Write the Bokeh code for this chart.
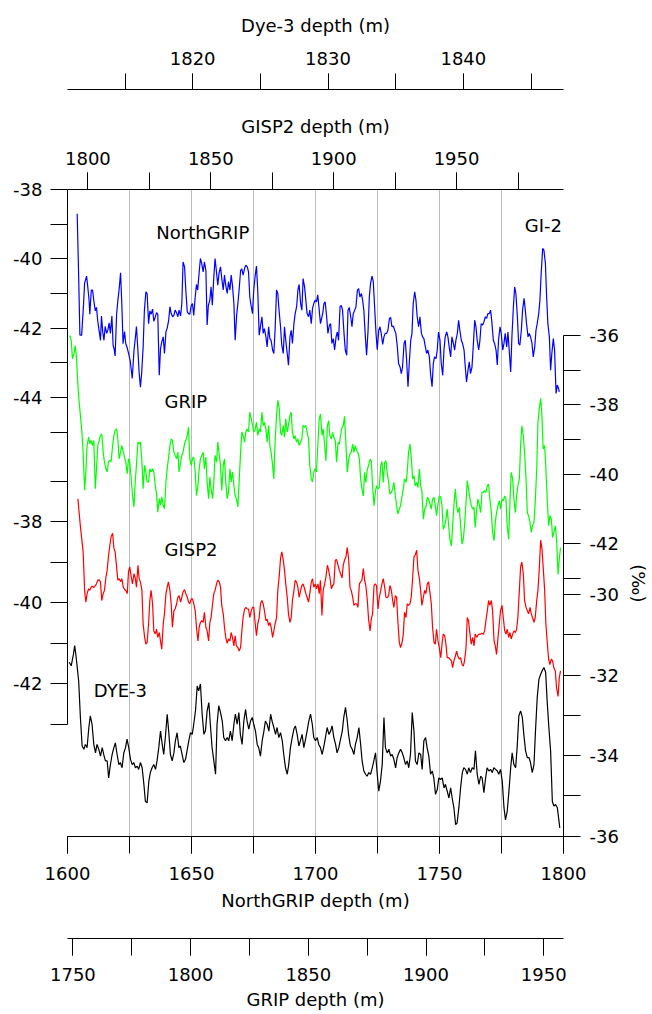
from bokeh.plotting import figure
from bokeh.models import Range1d, LinearAxis, FixedTicker, SingleIntervalTicker, Label, Title
from bokeh.layouts import column
from bokeh.embed import file_html
from bokeh.resources import INLINE

FONT = "DejaVu Sans"
FS = "18px"

# ---------------- data (depths in NorthGRIP metres, d18O in permil) ----------------
ngrip_depth = [
    1603.9, 1604.5, 1605.0, 1605.7, 1606.4, 1606.9, 1607.7, 1608.3, 1608.7, 1609.0,
    1609.6, 1610.1, 1610.6, 1611.2, 1611.7, 1612.2, 1612.8, 1613.3, 1613.7, 1614.2,
    1614.7, 1615.2, 1615.8, 1616.3, 1616.8, 1617.3, 1617.9, 1618.4, 1618.8, 1619.2,
    1619.8, 1620.3, 1620.8, 1621.4, 1621.9, 1622.4, 1623.0, 1623.5, 1624.0, 1624.7,
    1625.3, 1626.1, 1626.8, 1627.4, 1627.8, 1628.4, 1628.9, 1629.4, 1629.9, 1630.5,
    1631.0, 1631.6, 1632.1, 1632.7, 1633.2, 1633.7, 1634.3, 1634.8, 1635.3, 1635.9,
    1636.4, 1637.0, 1637.5, 1638.0, 1638.6, 1639.1, 1639.7, 1640.2, 1640.8, 1641.3,
    1641.8, 1642.4, 1642.9, 1643.4, 1644.0, 1644.5, 1645.0, 1645.6, 1646.1, 1646.6,
    1647.2, 1647.7, 1648.3, 1648.8, 1649.3, 1649.9, 1650.4, 1650.9, 1651.5, 1652.0,
    1652.5, 1653.1, 1653.6, 1654.1, 1654.7, 1655.2, 1655.8, 1656.3, 1656.8, 1657.4,
    1657.9, 1658.4, 1659.0, 1659.5, 1660.0, 1660.6, 1661.1, 1661.7, 1662.2, 1662.8,
    1663.3, 1663.8, 1664.4, 1664.9, 1665.5, 1666.0, 1666.5, 1667.1, 1667.6, 1668.2,
    1668.7, 1669.2, 1669.8, 1670.3, 1670.8, 1671.4, 1671.9, 1672.5, 1673.0, 1673.5,
    1674.1, 1674.6, 1675.1, 1675.7, 1676.2, 1676.7, 1677.3, 1677.8, 1678.4, 1678.9,
    1679.4, 1680.0, 1680.5, 1681.1, 1681.6, 1682.1, 1682.7, 1683.2, 1683.7, 1684.3,
    1684.8, 1685.3, 1685.9, 1686.4, 1687.0, 1687.5, 1688.0, 1688.6, 1689.1, 1689.7,
    1690.2, 1690.7, 1691.3, 1691.8, 1692.4, 1692.9, 1693.4, 1694.0, 1694.5, 1695.0,
    1695.6, 1696.1, 1696.6, 1697.2, 1697.7, 1698.3, 1698.8, 1699.3, 1699.9, 1700.4,
    1700.9, 1701.5, 1702.0, 1702.9, 1703.4, 1703.9, 1704.5, 1705.0, 1705.6, 1706.1,
    1706.6, 1707.2, 1707.7, 1708.3, 1708.8, 1709.3, 1709.9, 1710.4, 1710.9, 1711.5,
    1712.0, 1712.6, 1713.1, 1713.6, 1714.2, 1714.7, 1715.2, 1715.8, 1716.3, 1716.9,
    1717.4, 1717.9, 1718.5, 1719.0, 1719.5, 1720.1, 1720.6, 1721.2, 1721.7, 1722.2,
    1722.8, 1723.3, 1723.8, 1724.4, 1724.9, 1725.5, 1726.0, 1726.5, 1727.1, 1727.6,
    1728.1, 1728.7, 1729.2, 1729.8, 1730.3, 1730.8, 1731.4, 1731.9, 1732.4, 1733.0,
    1733.5, 1734.1, 1734.6, 1735.1, 1735.7, 1736.2, 1736.7, 1737.3, 1737.8, 1738.4,
    1738.9, 1739.4, 1740.0, 1740.5, 1741.0, 1741.6, 1742.1, 1742.7, 1743.2, 1743.7,
    1744.3, 1744.8, 1745.3, 1745.9, 1746.4, 1747.0, 1747.5, 1748.0, 1748.6, 1749.1,
    1749.6, 1750.2, 1750.7, 1751.3, 1751.8, 1752.3, 1752.9, 1753.4, 1753.9, 1754.5,
    1755.0, 1755.6, 1756.1, 1756.6, 1757.2, 1757.7, 1758.2, 1758.8, 1759.3, 1759.9,
    1760.4, 1760.9, 1761.5, 1762.0, 1762.5, 1763.1, 1763.6, 1764.2, 1764.7, 1765.2,
    1765.8, 1766.3, 1766.8, 1767.4, 1767.9, 1768.5, 1769.0, 1769.5, 1770.1, 1770.6,
    1771.1, 1771.7, 1772.2, 1772.8, 1773.3, 1773.8, 1774.4, 1774.9, 1775.5, 1776.0,
    1776.5, 1777.1, 1777.6, 1778.1, 1778.7, 1779.2, 1779.8, 1780.3, 1780.8, 1781.4,
    1781.9, 1782.4, 1783.0, 1783.5, 1784.1, 1784.6, 1785.1, 1785.7, 1786.2, 1786.7,
    1787.3, 1787.8, 1788.4, 1788.9, 1789.4, 1790.0, 1790.5, 1791.0, 1791.6, 1792.1,
    1792.7, 1793.2, 1793.7, 1794.3, 1794.8, 1795.3, 1795.9, 1796.4, 1797.0, 1797.5,
    1798.0, 1798.3,
]
ngrip_d18o = [
    -38.7, -40.5, -42.2, -42.2, -41.4, -40.7, -40.5, -40.9, -41.2, -41.6,
    -40.9, -40.9, -41.2, -41.5, -41.4, -41.8, -42.1, -42.35, -41.65, -42.1,
    -42.35, -41.95, -42.15, -42.05, -41.85, -42.15, -41.65, -42.5, -42.6, -42.8,
    -41.6, -41.2, -40.9, -40.4, -41.3, -42.45, -42.1, -42.45, -42.55, -42.75,
    -42.95, -43.45, -42.65, -42.25, -41.95, -42.65, -43.3, -43.7, -43.3, -42.55,
    -41.5, -40.95, -41.0, -41.87, -41.5, -41.6, -41.45, -41.8, -41.7, -41.55,
    -41.6, -43.36, -42.6, -42.4, -42.25, -42.73, -42.1, -42.0, -41.77, -41.38,
    -41.58, -41.67, -41.63, -41.48, -41.56, -41.67, -41.48, -41.65, -41.29, -40.09,
    -40.23, -40.9, -41.53, -41.58, -41.6, -41.34, -41.29, -41.63, -41.1, -40.74,
    -40.9, -40.38, -39.99, -40.13, -40.38, -40.09, -40.33, -41.91, -41.34, -41.19,
    -40.81, -41.34, -40.52, -39.99, -40.33, -40.76, -40.42, -40.23, -40.57, -40.9,
    -40.47, -40.76, -41.0, -40.66, -40.9, -40.47, -40.76, -41.29, -42.35, -41.63,
    -41.29, -40.9, -40.33, -40.29, -40.47, -40.28, -40.18, -40.23, -40.38, -41.1,
    -41.38, -41.58, -40.9, -40.47, -40.21, -40.9, -42.2, -41.96, -41.67, -42.15,
    -42.01, -42.25, -42.54, -41.96, -42.3, -42.35, -42.63, -42.73, -42.06, -40.9,
    -41.0, -41.48, -41.96, -42.49, -42.73, -41.96, -42.35, -42.73, -43.07, -42.25,
    -42.06, -42.44, -41.87, -41.58, -41.38, -40.9, -40.74, -41.29, -41.48, -40.57,
    -40.81, -41.19, -41.58, -41.67, -41.48, -41.87, -41.43, -41.29, -41.19, -41.24,
    -41.04, -41.48, -41.87, -41.58, -41.29, -41.24, -41.67, -42.15, -41.91, -41.87,
    -42.44, -42.3, -42.63, -42.25, -42.11, -42.35, -41.38, -41.34, -41.48, -42.15,
    -42.63, -42.78, -41.48, -41.4, -41.67, -41.96, -41.59, -41.48, -41.39, -40.9,
    -40.86, -41.1, -41.0, -41.19, -41.49, -42.25, -42.78, -42.06, -41.1, -40.71,
    -40.5, -40.66, -41.34, -42.15, -42.62, -42.06, -41.96, -42.15, -42.47, -42.25,
    -42.15, -42.15, -42.06, -41.72, -41.69, -41.96, -41.94, -42.06, -42.15, -42.54,
    -43.02, -43.12, -43.31, -43.12, -42.44, -42.35, -42.88, -43.69, -43.02, -42.35,
    -42.15, -41.29, -40.95, -41.19, -41.67, -41.96, -41.67, -42.15, -42.25, -42.3,
    -42.54, -42.73, -42.63, -42.83, -43.31, -43.69, -43.02, -42.83, -42.88, -42.63,
    -42.11, -42.35, -43.02, -43.36, -42.63, -42.25, -42.11, -42.25, -42.54, -42.83,
    -42.25, -42.44, -42.63, -42.35, -42.15, -41.77, -42.06, -42.35, -42.44, -42.63,
    -43.12, -43.55, -43.21, -42.97, -43.31, -43.12, -42.54, -41.77, -41.96, -42.35,
    -42.63, -42.35, -41.87, -41.91, -41.82, -41.67, -41.72, -41.58, -41.58, -41.48,
    -41.82, -42.35, -42.44, -42.63, -43.06, -42.35, -41.96, -42.15, -42.63, -42.44,
    -42.15, -42.54, -42.11, -42.63, -43.26, -42.25, -41.38, -40.81, -41.0, -41.67,
    -42.44, -42.49, -42.06, -41.48, -41.14, -41.48, -41.87, -42.25, -42.15, -42.25,
    -42.44, -42.83, -42.54, -42.06, -41.87, -41.58, -41.19, -40.42, -39.7, -39.75,
    -40.13, -41.1, -41.87, -42.25, -43.21, -42.73, -42.3, -42.63, -43.88, -43.64,
    -43.74, -43.84,
]

grip_depth = [
    1600.9, 1601.5, 1602.0, 1602.6, 1603.1, 1603.6, 1604.2, 1604.7, 1605.2, 1605.8,
    1606.3, 1606.9, 1607.4, 1607.9, 1608.5, 1609.0, 1609.5, 1610.1, 1610.6, 1611.2,
    1611.7, 1612.2, 1612.8, 1613.3, 1613.8, 1614.4, 1614.9, 1615.5, 1616.0, 1616.5,
    1617.1, 1617.6, 1618.2, 1618.7, 1619.2, 1619.8, 1620.3, 1620.8, 1621.4, 1621.9,
    1622.5, 1623.0, 1623.5, 1624.1, 1624.6, 1625.1, 1625.7, 1626.2, 1626.8, 1627.3,
    1627.8, 1628.4, 1628.9, 1629.4, 1630.0, 1630.5, 1631.1, 1631.6, 1632.1, 1632.7,
    1633.2, 1633.7, 1634.3, 1634.8, 1635.4, 1635.9, 1636.4, 1637.0, 1637.5, 1638.0,
    1638.6, 1639.1, 1639.7, 1640.2, 1640.7, 1641.3, 1641.8, 1642.3, 1642.9, 1643.4,
    1644.0, 1644.5, 1645.0, 1645.6, 1646.1, 1646.6, 1647.2, 1647.7, 1648.3, 1648.8,
    1649.3, 1649.9, 1650.4, 1650.9, 1651.5, 1652.0, 1652.6, 1653.1, 1653.6, 1654.2,
    1654.7, 1655.2, 1655.8, 1656.3, 1656.9, 1657.4, 1657.9, 1658.5, 1659.0, 1659.5,
    1660.1, 1660.6, 1661.2, 1661.7, 1662.2, 1662.8, 1663.3, 1663.8, 1664.4, 1664.9,
    1665.5, 1666.0, 1666.5, 1667.1, 1667.6, 1668.1, 1668.7, 1669.2, 1669.8, 1670.3,
    1670.8, 1671.4, 1671.9, 1672.4, 1673.0, 1673.5, 1674.1, 1674.6, 1675.1, 1675.7,
    1676.2, 1676.7, 1677.3, 1677.8, 1678.4, 1678.9, 1679.4, 1680.0, 1680.5, 1681.1,
    1681.6, 1682.1, 1682.7, 1683.2, 1683.7, 1684.3, 1684.8, 1685.4, 1685.9, 1686.4,
    1687.0, 1687.5, 1688.0, 1688.6, 1689.1, 1689.7, 1690.2, 1690.7, 1691.3, 1691.8,
    1692.3, 1692.9, 1693.4, 1694.0, 1694.5, 1695.0, 1695.6, 1696.1, 1696.6, 1697.2,
    1697.7, 1698.3, 1698.8, 1699.3, 1699.9, 1700.4, 1701.0, 1701.5, 1702.0, 1702.6,
    1703.1, 1703.7, 1704.2, 1704.8, 1705.3, 1705.8, 1706.4, 1706.9, 1707.4, 1708.0,
    1708.5, 1709.1, 1709.6, 1710.1, 1710.7, 1711.2, 1711.7, 1712.3, 1712.8, 1713.4,
    1713.9, 1714.4, 1715.0, 1715.5, 1716.0, 1716.6, 1717.1, 1717.7, 1718.2, 1718.7,
    1719.3, 1719.8, 1720.3, 1720.9, 1721.4, 1722.0, 1722.5, 1723.0, 1723.6, 1724.1,
    1724.6, 1725.2, 1725.7, 1726.3, 1726.8, 1727.3, 1727.9, 1728.4, 1728.9, 1729.5,
    1730.0, 1730.6, 1731.1, 1731.6, 1732.2, 1732.7, 1733.2, 1733.8, 1734.3, 1734.9,
    1735.4, 1735.9, 1736.5, 1737.0, 1737.5, 1738.1, 1738.6, 1739.2, 1739.7, 1740.2,
    1740.8, 1741.3, 1741.9, 1742.4, 1742.9, 1743.5, 1744.0, 1744.5, 1745.1, 1745.6,
    1746.2, 1746.7, 1747.2, 1747.8, 1748.3, 1748.8, 1749.4, 1749.9, 1750.5, 1751.0,
    1751.5, 1752.1, 1752.6, 1753.1, 1753.7, 1754.2, 1754.8, 1755.3, 1755.8, 1756.4,
    1756.9, 1757.4, 1758.0, 1758.5, 1759.1, 1759.6, 1760.1, 1760.7, 1761.2, 1761.7,
    1762.3, 1762.8, 1763.4, 1763.9, 1764.4, 1765.0, 1765.5, 1766.0, 1766.6, 1767.1,
    1767.7, 1768.2, 1768.7, 1769.3, 1769.8, 1770.3, 1770.9, 1771.4, 1772.0, 1772.5,
    1773.0, 1773.6, 1774.1, 1774.6, 1775.2, 1775.7, 1776.3, 1776.8, 1777.3, 1777.9,
    1778.4, 1778.9, 1779.5, 1780.0, 1780.6, 1781.1, 1781.6, 1782.2, 1782.7, 1783.2,
    1783.8, 1784.3, 1784.9, 1785.4, 1785.9, 1786.5, 1787.0, 1787.5, 1788.1, 1788.6,
    1789.2, 1789.7, 1790.2, 1790.8, 1791.3, 1791.8, 1792.4, 1792.9, 1793.5, 1794.0,
    1794.5, 1795.1, 1795.6, 1796.1, 1796.7, 1797.2, 1797.8, 1798.3, 1798.8,
]
grip_d18o = [
    -36.0, -36.14, -36.67, -36.53, -36.29, -36.62, -37.44, -37.92, -38.3, -38.78,
    -39.36, -40.46, -39.93, -39.17, -38.93, -39.12, -39.02, -39.17, -39.02, -40.41,
    -39.84, -39.17, -39.02, -38.88, -38.83, -39.36, -39.65, -39.84, -39.93, -39.65,
    -39.6, -39.63, -39.17, -38.88, -38.74, -38.69, -38.98, -39.55, -39.36, -39.17,
    -39.36, -39.5, -39.65, -39.98, -39.55, -39.65, -40.13, -40.61, -40.94, -40.22,
    -39.74, -39.07, -39.12, -39.07, -39.65, -40.41, -39.74, -39.93, -40.22, -40.22,
    -39.84, -39.93, -39.84, -39.93, -40.32, -40.56, -41.09, -40.7, -40.89, -40.65,
    -40.89, -40.99, -40.22, -39.84, -39.55, -39.17, -38.98, -39.02, -39.36, -39.45,
    -39.55, -39.36, -39.93, -39.65, -39.45, -39.36, -39.12, -39.02, -38.88, -38.64,
    -39.55, -39.74, -39.55, -39.5, -39.93, -40.61, -40.32, -39.84, -39.55, -39.45,
    -39.36, -39.84, -39.5, -40.22, -40.7, -40.08, -40.41, -40.7, -40.22, -39.45,
    -39.65, -39.07, -39.45, -39.74, -40.46, -39.74, -39.55, -40.22, -40.7, -40.51,
    -39.84, -40.22, -39.93, -40.32, -40.61, -40.7, -40.94, -40.22, -39.36, -38.78,
    -38.88, -39.07, -38.78, -38.69, -38.78, -38.21, -38.4, -38.59, -38.78, -38.69,
    -38.5, -38.88, -38.69, -38.78, -38.21, -38.59, -38.5, -38.69, -39.07, -38.59,
    -39.17, -39.36, -39.74, -40.13, -39.07, -38.3, -37.87, -38.11, -38.78, -38.88,
    -38.59, -38.93, -38.4, -38.78, -38.59, -38.3, -38.21, -38.78, -38.98, -38.88,
    -39.07, -38.98, -39.17, -39.07, -38.98, -38.59, -38.64, -38.59, -38.78, -38.98,
    -39.74, -40.13, -40.22, -39.93, -39.84, -39.93, -39.07, -38.4, -38.26, -38.88,
    -38.69, -39.17, -39.61, -38.6, -38.45, -38.88, -38.98, -38.79, -38.93, -39.03,
    -39.65, -39.08, -39.13, -38.88, -38.64, -38.6, -38.33, -39.17, -39.94, -39.56,
    -39.41, -39.37, -39.13, -39.37, -39.17, -39.32, -39.37, -39.56, -40.13, -40.42,
    -40.62, -39.94, -40.23, -39.85, -39.75, -39.56, -39.61, -40.33, -40.9, -40.52,
    -40.33, -40.42, -40.38, -39.75, -39.63, -40.23, -39.65, -39.61, -39.94, -40.23,
    -40.57, -40.52, -40.42, -40.23, -40.62, -40.9, -41.14, -41.0, -40.9, -40.62,
    -40.42, -40.13, -40.23, -39.94, -39.37, -39.13, -39.51, -40.13, -40.04, -40.33,
    -40.23, -40.38, -39.85, -40.33, -40.47, -41.29, -41.0, -40.95, -40.66, -40.71,
    -40.86, -41.0, -40.71, -40.66, -40.9, -41.19, -40.86, -40.62, -40.66, -40.9,
    -41.58, -41.48, -41.29, -41.0, -41.48, -41.87, -42.06, -41.48, -40.9, -40.42,
    -40.9, -41.1, -40.95, -41.48, -42.01, -41.87, -41.48, -40.81, -40.18, -40.42,
    -40.71, -40.9, -41.0, -40.95, -41.53, -41.0, -40.71, -40.86, -41.1, -40.52,
    -40.52, -40.47, -40.52, -40.33, -40.28, -40.71, -41.1, -41.67, -41.91, -41.38,
    -41.1, -40.9, -40.76, -41.0, -40.71, -40.76, -40.62, -40.71, -41.48, -41.87,
    -40.81, -39.94, -40.13, -40.71, -41.1, -40.62, -40.33, -40.13, -39.17, -38.6,
    -38.88, -39.37, -40.13, -41.1, -41.19, -41.38, -41.67, -41.48, -41.38, -40.81,
    -39.85, -38.5, -38.12, -37.81, -38.31, -39.27, -39.17, -39.85, -40.81, -41.48,
    -41.19, -41.29, -41.82, -41.67, -41.48, -41.87, -42.88, -42.44, -42.11,
]

gisp2_depth = [
    1604.2, 1604.7, 1605.2, 1605.8, 1606.3, 1606.9, 1607.4, 1607.9, 1608.5, 1609.0,
    1609.5, 1610.1, 1610.6, 1611.2, 1611.7, 1612.2, 1612.8, 1613.3, 1613.8, 1614.4,
    1614.9, 1615.5, 1616.0, 1616.5, 1617.1, 1617.6, 1618.2, 1618.7, 1619.2, 1619.8,
    1620.3, 1620.8, 1621.4, 1621.9, 1622.5, 1623.0, 1623.5, 1624.1, 1624.6, 1625.1,
    1625.7, 1626.2, 1626.8, 1627.3, 1627.8, 1628.4, 1628.9, 1629.4, 1630.0, 1630.5,
    1631.1, 1631.6, 1632.1, 1632.7, 1633.2, 1633.7, 1634.3, 1634.8, 1635.4, 1635.9,
    1636.4, 1637.0, 1637.5, 1638.0, 1638.6, 1639.1, 1639.7, 1640.2, 1640.7, 1641.3,
    1641.8, 1642.3, 1642.9, 1643.4, 1644.0, 1644.5, 1645.0, 1645.6, 1646.1, 1646.6,
    1647.2, 1647.7, 1648.3, 1648.8, 1649.3, 1649.9, 1650.4, 1650.9, 1651.5, 1652.0,
    1652.6, 1653.1, 1653.6, 1654.2, 1654.7, 1655.2, 1655.8, 1656.3, 1656.9, 1657.4,
    1657.9, 1658.5, 1659.0, 1659.5, 1660.1, 1660.6, 1661.2, 1661.7, 1662.2, 1662.8,
    1663.3, 1663.8, 1664.4, 1664.9, 1665.5, 1666.0, 1666.5, 1667.1, 1667.6, 1668.1,
    1668.7, 1669.2, 1669.8, 1670.3, 1670.8, 1671.4, 1671.9, 1672.4, 1673.0, 1673.5,
    1674.1, 1674.6, 1675.1, 1675.7, 1676.2, 1676.7, 1677.3, 1677.8, 1678.4, 1678.9,
    1679.4, 1680.0, 1680.5, 1681.1, 1681.6, 1682.1, 1682.7, 1683.2, 1683.7, 1684.3,
    1684.8, 1685.4, 1685.9, 1686.4, 1687.0, 1687.5, 1688.0, 1688.6, 1689.1, 1689.7,
    1690.2, 1690.7, 1691.3, 1691.8, 1692.3, 1692.9, 1693.4, 1694.0, 1694.5, 1695.0,
    1695.6, 1696.1, 1696.6, 1697.2, 1697.7, 1698.3, 1698.8, 1699.3, 1699.9, 1700.4,
    1701.0, 1701.5, 1702.0, 1702.6, 1703.1, 1703.7, 1704.2, 1704.8, 1705.3, 1705.8,
    1706.4, 1706.9, 1707.4, 1708.0, 1708.5, 1709.1, 1709.6, 1710.1, 1710.7, 1711.2,
    1711.7, 1712.3, 1712.8, 1713.4, 1713.9, 1714.4, 1715.0, 1715.5, 1716.0, 1716.6,
    1717.1, 1717.7, 1718.2, 1718.7, 1719.3, 1719.8, 1720.3, 1720.9, 1721.4, 1722.0,
    1722.5, 1723.0, 1723.6, 1724.1, 1724.6, 1725.2, 1725.7, 1726.3, 1726.8, 1727.3,
    1727.9, 1728.4, 1728.9, 1729.5, 1730.0, 1730.6, 1731.1, 1731.6, 1732.2, 1732.7,
    1733.2, 1733.8, 1734.3, 1734.9, 1735.4, 1735.9, 1736.5, 1737.0, 1737.5, 1738.1,
    1738.6, 1739.2, 1739.7, 1740.2, 1740.8, 1741.3, 1741.9, 1742.4, 1742.9, 1743.5,
    1744.0, 1744.5, 1745.1, 1745.6, 1746.2, 1746.7, 1747.2, 1747.8, 1748.3, 1748.8,
    1749.4, 1749.9, 1750.5, 1751.0, 1751.5, 1752.1, 1752.6, 1753.1, 1753.7, 1754.2,
    1754.8, 1755.3, 1755.8, 1756.4, 1756.9, 1757.4, 1758.0, 1758.5, 1759.1, 1759.6,
    1760.1, 1760.7, 1761.2, 1761.7, 1762.3, 1762.8, 1763.4, 1763.9, 1764.4, 1765.0,
    1765.5, 1766.0, 1766.6, 1767.1, 1767.7, 1768.2, 1768.7, 1769.3, 1769.8, 1770.3,
    1770.9, 1771.4, 1772.0, 1772.5, 1773.0, 1773.6, 1774.1, 1774.6, 1775.2, 1775.7,
    1776.3, 1776.8, 1777.3, 1777.9, 1778.4, 1778.9, 1779.5, 1780.0, 1780.6, 1781.1,
    1781.6, 1782.2, 1782.7, 1783.2, 1783.8, 1784.3, 1784.9, 1785.4, 1785.9, 1786.5,
    1787.0, 1787.5, 1788.1, 1788.6, 1789.2, 1789.7, 1790.2, 1790.8, 1791.3, 1791.8,
    1792.4, 1792.9, 1793.5, 1794.0, 1794.5, 1795.1, 1795.6, 1796.1, 1796.7, 1797.2,
    1797.8, 1798.3, 1798.8,
]
gisp2_d18o = [
    -37.44, -37.79, -38.12, -38.46, -38.75, -39.7, -39.99, -39.78, -39.66, -39.7,
    -39.62, -39.6, -39.63, -39.58, -39.54, -39.45, -39.44, -39.49, -39.95, -39.78,
    -39.7, -39.37, -39.2, -38.87, -38.58, -38.37, -38.29, -38.66, -38.75, -39.12,
    -39.45, -39.41, -39.49, -39.41, -39.62, -39.68, -39.7, -39.78, -39.24, -39.12,
    -39.37, -39.54, -39.29, -39.39, -39.62, -39.08, -39.41, -39.49, -39.7, -40.53,
    -40.86, -41.03, -40.99, -40.53, -39.95, -39.7, -40.03, -40.7, -40.78, -40.66,
    -40.86, -40.74, -40.95, -41.15, -40.53, -40.28, -39.78, -39.62, -39.49, -39.7,
    -40.03, -40.61, -40.2, -40.16, -40.03, -39.87, -39.83, -39.99, -39.87, -39.74,
    -39.68, -39.78, -39.87, -39.99, -40.03, -39.91, -39.91, -40.03, -40.2, -40.61,
    -40.95, -40.61, -40.49, -40.45, -40.49, -40.24, -40.61, -40.7, -40.95, -40.49,
    -40.37, -40.03, -39.78, -39.7, -39.54, -39.45, -39.49, -39.62, -40.07, -40.28,
    -40.61, -40.86, -41.01, -40.9, -40.95, -40.74, -40.86, -41.07, -40.82, -41.07,
    -41.11, -41.2, -41.11, -40.7, -40.37, -40.16, -40.12, -40.16, -40.16, -40.37,
    -40.2, -40.12, -40.12, -40.53, -40.82, -40.53, -40.37, -40.03, -39.95, -40.03,
    -40.2, -40.45, -40.41, -40.57, -40.49, -40.61, -40.86, -40.7, -40.53, -40.37,
    -39.7, -39.33, -38.91, -38.75, -38.95, -39.2, -39.54, -39.87, -40.28, -40.49,
    -40.37, -39.95, -39.7, -39.45, -39.49, -39.62, -39.87, -39.7, -39.58, -39.54,
    -39.66, -39.78, -39.87, -39.99, -39.78, -39.49, -39.41, -39.62, -39.54, -39.66,
    -39.54, -39.78, -39.45, -40.32, -39.7, -39.54, -39.37, -39.08, -39.2, -39.37,
    -39.66, -39.58, -39.54, -38.95, -38.94, -39.08, -39.2, -39.29, -39.39, -39.08,
    -38.95, -38.87, -38.64, -38.95, -39.62, -39.7, -39.87, -40.07, -40.03, -40.03,
    -40.12, -39.54, -39.49, -39.45, -39.16, -39.45, -39.58, -39.95, -40.41, -40.7,
    -40.41, -40.28, -39.58, -39.54, -39.58, -40.16, -39.87, -39.7, -39.54, -39.41,
    -39.62, -39.87, -39.88, -39.83, -39.58, -39.7, -39.95, -40.12, -39.83, -39.87,
    -40.45, -40.99, -41.11, -40.99, -40.78, -40.24, -40.37, -40.03, -40.07, -40.03,
    -39.87, -39.37, -38.87, -38.83, -38.71, -39.2, -39.41, -39.7, -40.07, -39.87,
    -39.7, -39.78, -39.54, -39.49, -39.78, -40.03, -40.61, -40.99, -41.03, -40.66,
    -40.95, -41.11, -41.36, -41.03, -40.78, -40.82, -41.03, -41.36, -41.36, -41.4,
    -41.44, -41.61, -41.44, -41.32, -41.2, -41.32, -41.4, -41.36, -41.53, -41.57,
    -41.44, -41.11, -40.37, -40.45, -40.78, -41.03, -40.86, -41.07, -40.78, -40.86,
    -40.8, -40.78, -40.78, -40.76, -40.78, -40.7, -40.45, -40.2, -39.95, -40.07,
    -39.95, -40.2, -40.95, -41.07, -41.28, -40.86, -40.53, -40.2, -40.07, -40.37,
    -40.7, -40.78, -40.66, -40.86, -40.74, -40.9, -40.78, -40.7, -40.74, -40.66,
    -40.37, -39.7, -39.12, -39.0, -39.29, -39.95, -40.12, -40.2, -40.28, -40.12,
    -40.28, -40.37, -40.49, -40.37, -39.95, -39.7, -39.2, -38.46, -38.66, -39.12,
    -39.7, -40.53, -41.03, -41.4, -41.53, -41.4, -41.44, -41.61, -41.69, -42.11,
    -42.32, -41.86, -41.69,
]

dye3_depth = [
    1600.7, 1601.5, 1602.4, 1602.9, 1603.5, 1604.5, 1605.2, 1605.9, 1606.6, 1607.2,
    1607.9, 1608.6, 1609.2, 1609.9, 1610.6, 1611.3, 1611.9, 1612.6, 1613.3, 1614.0,
    1614.6, 1615.3, 1616.0, 1616.6, 1617.3, 1618.0, 1618.7, 1619.3, 1620.0, 1620.7,
    1621.3, 1622.0, 1622.7, 1623.4, 1624.0, 1624.7, 1625.4, 1626.1, 1626.7, 1627.4,
    1628.1, 1628.7, 1629.4, 1630.1, 1630.8, 1631.4, 1632.1, 1632.8, 1633.4, 1634.1,
    1634.8, 1635.5, 1636.1, 1636.8, 1637.5, 1638.2, 1638.8, 1639.5, 1640.2, 1640.8,
    1641.5, 1642.2, 1642.9, 1643.5, 1644.2, 1644.9, 1645.5, 1646.2, 1646.9, 1647.6,
    1648.2, 1648.9, 1649.6, 1650.3, 1650.9, 1651.6, 1652.3, 1652.9, 1653.6, 1654.3,
    1655.0, 1655.6, 1656.3, 1657.0, 1657.6, 1658.3, 1659.0, 1659.7, 1660.3, 1661.0,
    1661.7, 1662.4, 1663.0, 1663.7, 1664.4, 1665.0, 1665.7, 1666.4, 1667.1, 1667.7,
    1668.4, 1669.1, 1669.7, 1670.4, 1671.1, 1671.8, 1672.4, 1673.1, 1673.8, 1674.5,
    1675.1, 1675.8, 1676.5, 1677.1, 1677.8, 1678.5, 1679.2, 1679.8, 1680.5, 1681.2,
    1681.9, 1682.5, 1683.2, 1683.9, 1684.5, 1685.2, 1685.9, 1686.6, 1687.2, 1687.9,
    1688.6, 1689.2, 1689.9, 1690.6, 1691.3, 1691.9, 1692.6, 1693.3, 1693.9, 1694.6,
    1695.3, 1696.0, 1696.6, 1697.3, 1698.0, 1698.7, 1699.3, 1700.0, 1700.7, 1701.3,
    1702.0, 1702.7, 1703.4, 1704.0, 1704.7, 1705.4, 1706.1, 1706.7, 1707.4, 1708.1,
    1708.7, 1709.4, 1710.1, 1710.8, 1711.4, 1712.1, 1712.8, 1713.4, 1714.1, 1714.8,
    1715.5, 1716.1, 1716.8, 1717.5, 1718.2, 1718.8, 1719.5, 1720.2, 1720.8, 1721.5,
    1722.2, 1722.9, 1723.5, 1724.2, 1724.9, 1725.5, 1726.2, 1726.9, 1727.6, 1728.2,
    1728.9, 1729.6, 1730.3, 1730.9, 1731.6, 1732.3, 1732.9, 1733.6, 1734.3, 1735.0,
    1735.6, 1736.3, 1737.0, 1737.6, 1738.3, 1739.0, 1739.7, 1740.3, 1741.0, 1741.7,
    1742.4, 1743.0, 1743.7, 1744.4, 1745.0, 1745.7, 1746.4, 1747.1, 1747.7, 1748.4,
    1749.1, 1749.7, 1750.4, 1751.1, 1751.8, 1752.4, 1753.1, 1753.8, 1754.5, 1755.1,
    1755.8, 1756.5, 1757.1, 1757.8, 1758.5, 1759.2, 1759.8, 1760.5, 1761.2, 1761.8,
    1762.5, 1763.2, 1763.9, 1764.5, 1765.2, 1765.9, 1766.6, 1767.2, 1767.9, 1768.6,
    1769.2, 1769.9, 1770.6, 1771.3, 1771.9, 1772.6, 1773.3, 1773.9, 1774.6, 1775.3,
    1776.0, 1776.6, 1777.3, 1778.0, 1778.7, 1779.3, 1780.0, 1780.7, 1781.3, 1782.0,
    1782.7, 1783.4, 1784.0, 1784.7, 1785.4, 1786.1, 1786.7, 1787.4, 1788.1, 1788.7,
    1789.4, 1790.1, 1790.8, 1791.4, 1792.1, 1792.8, 1793.4, 1794.1, 1794.8, 1795.5,
    1796.1, 1796.8, 1797.5, 1798.2, 1798.5,
]
dye3_d18o = [
    -31.68, -31.77, -31.48, -31.27, -31.56, -32.14, -33.05, -33.76, -33.84, -33.72,
    -33.8, -33.3, -33.01, -33.22, -33.72, -33.93, -33.72, -33.84, -34.01, -33.8,
    -33.97, -34.13, -34.13, -34.55, -34.22, -33.97, -33.8, -33.68, -33.97, -34.22,
    -34.17, -34.3, -33.93, -33.8, -33.59, -33.8, -34.09, -34.22, -34.17, -34.3,
    -34.26, -34.34, -34.17, -34.3, -34.71, -35.13, -35.17, -34.63, -34.42, -34.3,
    -34.22, -34.34, -34.13, -33.8, -33.39, -33.72, -33.97, -33.51, -32.97, -33.39,
    -33.97, -34.13, -33.93, -33.63, -33.43, -33.8, -33.76, -33.97, -34.17, -34.09,
    -33.88, -33.63, -33.43, -33.47, -33.22, -32.89, -32.27, -32.39, -32.22, -32.97,
    -33.47, -33.39, -32.89, -32.68, -33.22, -33.8, -34.13, -34.46, -33.22, -32.76,
    -32.93, -33.14, -33.55, -33.63, -33.55, -33.63, -33.39, -33.63, -33.22, -32.97,
    -33.22, -32.93, -33.47, -33.72, -33.14, -32.85, -33.14, -33.34, -33.14, -33.05,
    -33.22, -33.39, -33.72, -33.8, -34.01, -33.63, -33.39, -33.14, -33.22, -33.39,
    -32.97, -33.14, -33.3, -33.47, -33.3, -33.55, -33.43, -33.63, -33.97, -34.3,
    -34.46, -34.22, -33.8, -33.55, -33.34, -33.26, -33.47, -33.76, -33.63, -33.47,
    -33.8, -33.59, -33.39, -33.14, -32.97, -33.22, -33.55, -33.63, -33.55, -33.72,
    -33.8, -33.97, -33.76, -33.55, -33.3, -33.47, -33.39, -33.26, -33.55, -33.72,
    -33.93, -33.8, -33.59, -33.39, -33.05, -32.8, -33.14, -33.51, -33.76, -33.84,
    -33.97, -33.72, -33.55, -33.3, -33.72, -34.13, -34.38, -34.46, -34.51, -34.42,
    -34.46, -34.3, -34.13, -33.93, -34.46, -34.88, -34.63, -34.22, -33.05, -33.8,
    -33.93, -33.84, -34.01, -33.97, -34.09, -34.3, -34.05, -33.93, -33.84, -33.93,
    -34.05, -34.22, -34.13, -34.3, -33.97, -32.93, -33.39, -34.13, -34.22, -33.93,
    -33.97, -34.34, -33.63, -33.55, -33.8, -34.01, -34.46, -34.38, -34.55, -34.96,
    -34.84, -34.55, -34.59, -34.55, -34.8, -34.71, -34.88, -35.05, -34.8, -35.05,
    -35.29, -35.71, -35.67, -35.29, -34.8, -34.42, -34.3, -34.34, -34.46, -34.3,
    -34.42, -34.3, -34.34, -33.88, -34.46, -34.71, -34.51, -34.55, -34.92, -34.55,
    -34.3, -34.38, -34.34, -34.42, -34.3, -34.34, -34.38, -34.46, -34.34, -34.63,
    -35.29, -35.59, -35.38, -34.88, -34.3, -33.93, -34.22, -34.3, -33.8, -33.01,
    -32.89, -33.05, -33.47, -33.88, -34.05, -34.05, -34.17, -34.42, -34.22, -33.39,
    -32.56, -32.1, -31.98, -31.89, -31.81, -31.93, -32.64, -33.3, -33.88, -35.13,
    -35.25, -35.21, -35.29, -35.63, -35.79,
]

# axis tick values
ngrip_ticks = [-38, -39, -40, -41, -42, -43, -44, -45]
gisp2_ticks = [-37, -38, -39, -40, -41, -42, -43]
grip_ticks = [-36, -37, -38, -39, -40, -41, -42, -43]
dye3_ticks = [-30, -31, -32, -33, -34, -35, -36]

# value ranges of the stacked panels (layout)
NGRIP_Y = (-56.662, -38.0)
GRIP_Y = (-50.43, -31.795)
GISP2_Y = (-45.777, -29.802)
DYE3_Y = (-36.005, -19.95)
NGRIP_X = (1600, 1800)
GISP2_X = (1791.7, 1993.5)
DYE3_X = (1810.75, 1847.4)
GRIP_X = (1747.7, 1958.4)

assert len(ngrip_depth) == len(ngrip_d18o)
assert len(grip_depth) == len(grip_d18o)
assert len(gisp2_depth) == len(gisp2_d18o)
assert len(dye3_depth) == len(dye3_d18o)


def conv(v, src, dst):
    return round(dst[0] + (v - src[0]) / (src[1] - src[0]) * (dst[1] - dst[0]), 6)


def style_axis(ax, tick=17, lab_off=8, title_off=7):
    ax.major_tick_out = tick
    ax.major_tick_in = 0
    ax.minor_tick_out = tick
    ax.minor_tick_in = 0
    ax.axis_line_color = "black"
    ax.major_tick_line_color = "black"
    ax.minor_tick_line_color = "black"
    ax.major_label_text_font = FONT
    ax.major_label_text_font_size = FS
    ax.major_label_text_color = "black"
    ax.axis_label_text_font = FONT
    ax.axis_label_text_font_size = FS
    ax.axis_label_text_font_style = "normal"
    ax.axis_label_text_color = "black"
    ax.major_label_standoff = lab_off
    ax.axis_label_standoff = title_off


common = dict(toolbar_location=None, output_backend="svg", frame_width=496,
              min_border_left=67, min_border_right=89,
              outline_line_color=None, background_fill_color="white",
              border_fill_color="white")

# ---- top strip: Dye-3 depth axis ----
pa = figure(frame_height=1, x_range=Range1d(*DYE3_X), y_range=Range1d(0, 1),
            x_axis_location="above", y_axis_location=None,
            min_border_top=89, min_border_bottom=0, **common)
pa.grid.visible = False
axa = pa.xaxis[0]
axa.ticker = SingleIntervalTicker(interval=10, num_minor_ticks=2)
axa.axis_label = "Dye-3 depth (m)"
style_axis(axa, tick=16, lab_off=9, title_off=13)

# ---- main panel ----
p = figure(frame_height=647, x_range=Range1d(*NGRIP_X), y_range=Range1d(*NGRIP_Y),
           x_axis_location="below", y_axis_location=None,
           min_border_top=99, min_border_bottom=101, **common)
p.extra_y_ranges = {"grip": Range1d(*GRIP_Y), "gisp2": Range1d(*GISP2_Y),
                    "dye3": Range1d(*DYE3_Y)}
p.extra_x_ranges = {"gisp2x": Range1d(*GISP2_X)}

axb = p.xaxis[0]
axb.ticker = SingleIntervalTicker(interval=50, num_minor_ticks=2)
axb.axis_label = "NorthGRIP depth (m)"
style_axis(axb, lab_off=13, title_off=7)

axt = LinearAxis(x_range_name="gisp2x",
                 ticker=SingleIntervalTicker(interval=50, num_minor_ticks=2),
                 axis_label="GISP2 depth (m)")
style_axis(axt, lab_off=8, title_off=12)
p.add_layout(axt, "above")

p.ygrid.visible = False
p.xgrid.grid_line_color = "#bcbcbc"
p.xgrid.minor_grid_line_color = "#bcbcbc"
p.xgrid.grid_line_width = 1
p.xgrid.minor_grid_line_width = 1

# left axis: NorthGRIP (upper) + GISP2 (lower)
left_ticks, left_labels = [], {}
for v in ngrip_ticks:
    t = float(v)
    left_ticks.append(t)
    left_labels[t] = str(v) if v % 2 == 0 else ""
for v in gisp2_ticks:
    t = conv(v, GISP2_Y, NGRIP_Y)
    left_ticks.append(t)
    left_labels[t] = str(v) if v % 2 == 0 else ""
axl = LinearAxis(ticker=FixedTicker(ticks=left_ticks), major_label_overrides=left_labels,
                 bounds=(conv(min(gisp2_ticks), GISP2_Y, NGRIP_Y), float(max(ngrip_ticks))))
style_axis(axl, lab_off=8)
p.add_layout(axl, "left")

# right axis: GRIP (upper) + DYE-3 (lower)
right_ticks, right_labels = [], {}
for v in grip_ticks:
    t = float(v)
    right_ticks.append(t)
    right_labels[t] = str(v) if v % 2 == 0 else ""
for v in dye3_ticks:
    t = conv(v, DYE3_Y, GRIP_Y)
    right_ticks.append(t)
    right_labels[t] = str(v) if v % 2 == 0 else ""
axr = LinearAxis(y_range_name="grip", ticker=FixedTicker(ticks=right_ticks),
                 major_label_overrides=right_labels,
                 bounds=(conv(min(dye3_ticks), DYE3_Y, GRIP_Y), float(max(grip_ticks))))
style_axis(axr, lab_off=9)
p.add_layout(axr, "right")

# unit label on the right side
p.add_layout(Title(text="(\u2030)", align="right", vertical_align="top", offset=234,
                   standoff=8, text_font=FONT, text_font_size=FS,
                   text_font_style="normal", text_color="black"), "right")

p.line(ngrip_depth, ngrip_d18o, line_color="#0000ff", line_width=1.2)
p.line(grip_depth, grip_d18o, y_range_name="grip", line_color="#00ff00", line_width=1.2)
p.line(gisp2_depth, gisp2_d18o, y_range_name="gisp2", line_color="#ff0000", line_width=1.2)
p.line(dye3_depth, dye3_d18o, y_range_name="dye3", line_color="#000000", line_width=1.2)

lab = dict(text_font=FONT, text_font_size=FS, text_color="black",
           text_align="left", text_baseline="middle")
p.add_layout(Label(x=1635.8, y=-39.25, text="NorthGRIP", **lab))
p.add_layout(Label(x=1784.4, y=-39.04, text="GI-2", **lab))
p.add_layout(Label(x=1639.1, y=-37.89, y_range_name="grip", text="GRIP", **lab))
p.add_layout(Label(x=1639.1, y=-38.68, y_range_name="gisp2", text="GISP2", **lab))
p.add_layout(Label(x=1610.6, y=-32.37, y_range_name="dye3", text="DYE-3", **lab))

# ---- bottom strip: GRIP depth axis ----
pc = figure(frame_height=1, x_range=Range1d(*GRIP_X), y_range=Range1d(0, 1),
            x_axis_location="below", y_axis_location=None,
            min_border_top=0, min_border_bottom=0, **common)
pc.grid.visible = False
axc = pc.xaxis[0]
axc.ticker = SingleIntervalTicker(interval=50, num_minor_ticks=2)
axc.axis_label = "GRIP depth (m)"
style_axis(axc, lab_off=12, title_off=5)

layout = column(pa, p, pc, spacing=0)
open("out.html", "w").write(file_html(layout, INLINE, title="Greenland ice core d18O"))
